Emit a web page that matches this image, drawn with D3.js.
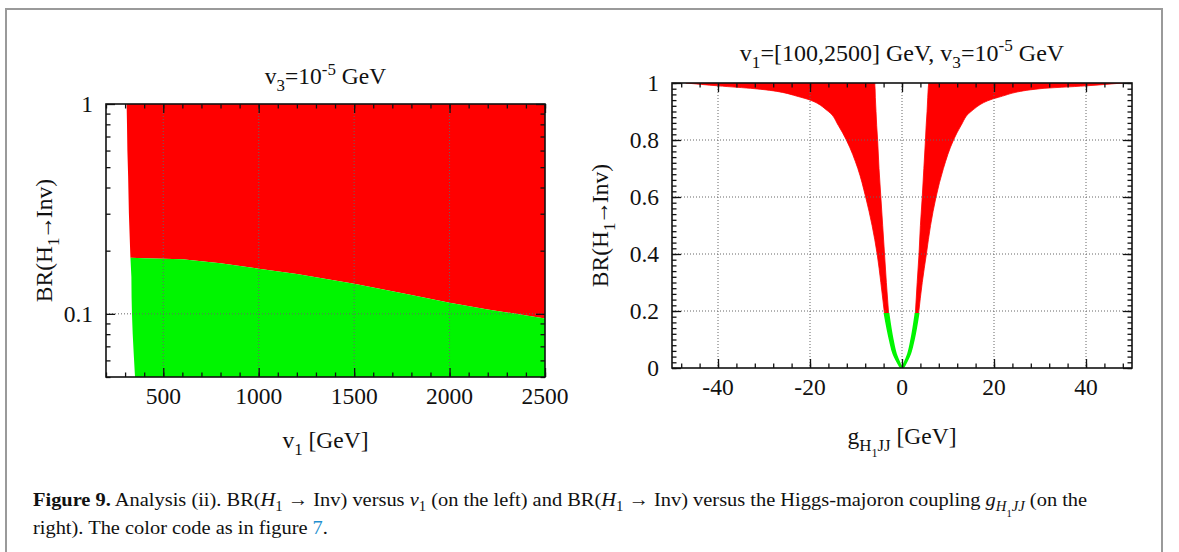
<!DOCTYPE html>
<html>
<head>
<meta charset="utf-8">
<script src="https://cdn.jsdelivr.net/npm/d3@7"></script>
<style>
  body { margin: 0; background: #fff; }
  svg text { font-family: "Liberation Serif", "Times New Roman", serif; fill: #111; }
</style>
</head>
<body>
<div id="wrapper"></div>
<script>

// ---- data ----

// left panel: BR(H1->Inv) vs v1
const leftXTicks = [500, 1000, 1500, 2000, 2500]
const leftYTicks = [0.1, 1]
// left boundary of the scanned points (BR from top to bottom)
const edgeBR = [1, 0.8, 0.6, 0.45, 0.3, 0.22, 0.185, 0.15, 0.12, 0.1, 0.08, 0.065, 0.05]
const edgeV1 = [308, 310, 312, 316, 320, 325, 328, 333, 334, 336, 340, 345, 352]
// green / red border
const limitV1 = [328, 400, 500, 600, 700, 800, 1000, 1200, 1500, 1800, 2000, 2200, 2500]
const limitBR = [0.185, 0.184, 0.183, 0.182, 0.178, 0.174, 0.164, 0.155, 0.139, 0.123, 0.113, 0.105, 0.095]

// right panel: BR(H1->Inv) vs g_H1JJ
const rightXTicks = [-40, -20, 0, 20, 40]
const rightYTicks = [0, 0.2, 0.4, 0.6, 0.8, 1]
const bandBR     = [0, 0.05, 0.1, 0.19, 0.3, 0.4, 0.5, 0.6, 0.7, 0.8, 0.85, 0.9, 0.95, 0.98, 0.99, 1]
const posInner   = [0, 1.3, 2.0, 2.9, 3.3, 3.7, 4.0, 4.4, 4.75, 5.1, 5.25, 5.45, 5.6, 5.7, 5.75, 5.8]
const posOuter   = [0.3, 1.8, 2.6, 3.6, 4.4, 5.3, 6.2, 7.4, 9.0, 11.2, 12.8, 15.0, 21, 30, 40, 48]
const negInner   = [0, -1.3, -2.0, -2.9, -3.4, -3.8, -4.2, -4.6, -5.0, -5.3, -5.5, -5.65, -5.8, -5.85, -5.9, -5.9]
const negOuter   = [-0.3, -1.9, -2.7, -3.8, -4.6, -5.4, -6.5, -7.9, -9.6, -12.1, -13.8, -16, -22, -32, -40, -47]
const greenCut = 0.19

const RED = "#ff0000"
const GREEN = "#00f500"

// ---- canvas ----
const width = 1179
const height = 552
const svg = d3.select("#wrapper").append("svg")
    .attr("width", width)
    .attr("height", height)

svg.append("rect")
    .attr("x", 6).attr("y", 9)
    .attr("width", 1156).attr("height", 600)
    .attr("fill", "none")
    .attr("stroke", "#9a9a9a")
    .attr("stroke-width", 2)

// rich text helper: parts = [{t, sub, sup, it, b, fill, dx}]
function rich(sel, parts, size) {
  let cur = 0
  parts.forEach(p => {
    let off = 0, fs = size
    if (p.sub) { off = size * 0.28 * p.sub; fs = size * Math.pow(0.72, p.sub) }
    if (p.sup) { off = -size * 0.4; fs = size * 0.72 }
    const ts = sel.append("tspan").text(p.t)
        .attr("dy", off - cur)
        .attr("font-size", fs)
    cur = off
    if (p.dx) ts.attr("dx", p.dx)
    if (p.it) ts.attr("font-style", "italic")
    if (p.b) ts.attr("font-weight", "bold")
    if (p.fill) ts.style("fill", p.fill)
  })
  return sel
}

function ticks(g, scale, values, axisFn, size) {
  g.call(axisFn(scale).tickValues(values).tickSize(size).tickFormat(""))
  g.select(".domain").remove()
  g.selectAll(".tick line").attr("stroke", "#111").attr("stroke-width", 1.3)
}

function panel(dim, xScale, yScale, xMajor, xMinor, yMajor, yMinor, yFmt) {
  const b = svg.append("g")
  const w = dim.right - dim.left, h = dim.bottom - dim.top
  const clipId = "clip" + dim.left
  b.append("clipPath").attr("id", clipId)
    .append("rect").attr("x", dim.left).attr("y", dim.top).attr("width", w).attr("height", h)
  const data = b.append("g").attr("clip-path", `url(#${clipId})`)

  // grid
  const grid = b.append("g")
      .attr("stroke", "#666").attr("stroke-width", 1).attr("stroke-dasharray", "1,2")
  grid.selectAll(".gx").data(xMajor.filter(v => xScale(v) > dim.left + 1 && xScale(v) < dim.right - 1))
    .join("line")
      .attr("x1", d => xScale(d)).attr("x2", d => xScale(d))
      .attr("y1", dim.top).attr("y2", dim.bottom)
  grid.selectAll(".gy").data(yMajor.filter(v => yScale(v) > dim.top + 1 && yScale(v) < dim.bottom - 1))
    .join("line")
      .attr("y1", d => yScale(d)).attr("y2", d => yScale(d))
      .attr("x1", dim.left).attr("x2", dim.right)

  // ticks on all four sides, pointing inward
  const axes = [
    [d3.axisBottom, xScale, `translate(0,${dim.bottom})`, xMajor, xMinor],
    [d3.axisTop, xScale, `translate(0,${dim.top})`, xMajor, xMinor],
    [d3.axisLeft, yScale, `translate(${dim.left},0)`, yMajor, yMinor],
    [d3.axisRight, yScale, `translate(${dim.right},0)`, yMajor, yMinor],
  ]
  axes.forEach(([fn, sc, tr, maj, min]) => {
    ticks(b.append("g").attr("transform", tr), sc, min, fn, -4.5)
    ticks(b.append("g").attr("transform", tr), sc, maj, fn, -9)
  })

  b.append("rect")
      .attr("x", dim.left).attr("y", dim.top).attr("width", w).attr("height", h)
      .attr("fill", "none").attr("stroke", "#111").attr("stroke-width", 1.6)

  // tick labels
  b.append("g").selectAll("text").data(xMajor).join("text")
      .attr("x", d => xScale(d)).attr("y", dim.bottom + 27)
      .attr("text-anchor", "middle").attr("font-size", 23.5)
      .text(d => d3.format("")(d).replace("−", "-"))
  b.append("g").selectAll("text").data(yMajor).join("text")
      .attr("x", dim.left - 13).attr("y", d => yScale(d) + 8)
      .attr("text-anchor", "end").attr("font-size", 23.5)
      .text(yFmt)
  return data
}

// ---- left panel ----
const L = { left: 106, right: 545, top: 104, bottom: 377 }
const xL = d3.scaleLinear().domain([200, 2500]).range([L.left, L.right])
const yL = d3.scaleLog().domain([0.05, 1]).range([L.bottom, L.top])

const leftData = panel(L, xL, yL,
  leftXTicks, d3.range(200, 2501, 100),
  leftYTicks, [0.05, 0.06, 0.07, 0.08, 0.09, 0.2, 0.3, 0.4, 0.5, 0.6, 0.7, 0.8, 0.9],
  d => d === 1 ? "1" : "0.1")

const edgePts = edgeBR.map((br, i) => [edgeV1[i], br])
const limitPts = limitV1.map((v, i) => [v, limitBR[i]])
const cut = limitBR[0]
const poly = d3.line().x(d => xL(d[0])).y(d => yL(d[1]))

const redPoly = edgePts.filter(d => d[1] >= cut)
  .concat(limitPts.slice(1))
  .concat([[2500, 1]])
const greenPoly = limitPts
  .concat([[2500, 0.05]])
  .concat(edgePts.filter(d => d[1] <= cut).reverse())

leftData.insert("path", ":first-child").attr("d", poly(greenPoly) + "Z").attr("fill", GREEN)
leftData.insert("path", ":first-child").attr("d", poly(redPoly) + "Z").attr("fill", RED)

// ---- right panel ----
const R = { left: 672, right: 1132, top: 83, bottom: 368 }
const xR = d3.scaleLinear().domain([-50, 50]).range([R.left, R.right])
const yR = d3.scaleLinear().domain([0, 1]).range([R.bottom, R.top])

const rightData = panel(R, xR, yR,
  rightXTicks, d3.range(-48, 49, 4),
  rightYTicks, d3.range(0, 1.001, 0.02),
  d => d === 0 ? "0" : d === 1 ? "1" : d3.format(".1f")(d))

const band = (inner, outer) => bandBR.map((br, i) => ({ br, a: inner[i], b: outer[i] }))
const area = d3.area()
    .y(d => yR(d.br))
    .x0(d => xR(d.a))
    .x1(d => xR(d.b))
    .curve(d3.curveMonotoneY)

;[band(posInner, posOuter), band(negInner, negOuter)].forEach(arm => {
  const top = arm.filter(d => d.br >= greenCut)
  const low = arm.filter(d => d.br <= greenCut)
  rightData.append("path").attr("d", area(top)).attr("fill", RED)
      .attr("stroke", RED).attr("stroke-width", 0.8)
  rightData.append("path").attr("d", area(low)).attr("fill", GREEN)
      .attr("stroke", GREEN).attr("stroke-width", 1.6)
})

// ---- titles & axis labels ----
const txt = (x, y, size, parts, rot) => {
  const t = svg.append("text")
      .attr("text-anchor", "middle")
      .attr("font-size", size)
  if (rot) t.attr("transform", `translate(${x},${y}) rotate(-90)`)
  else t.attr("x", x).attr("y", y)
  return rich(t, parts, size)
}

txt((L.left + L.right) / 2, 84, 23.5,
  [{ t: "v" }, { t: "3", sub: 1 }, { t: "=10" }, { t: "-5", sup: true }, { t: " GeV" }])
txt((R.left + R.right) / 2, 61, 24,
  [{ t: "v" }, { t: "1", sub: 1 }, { t: "=[100,2500] GeV, v" }, { t: "3", sub: 1 },
   { t: "=10" }, { t: "-5", sup: true }, { t: " GeV" }])

const brLabel = [{ t: "BR(H" }, { t: "1", sub: 1 }, { t: "\u2192", dx: -2 }, { t: "Inv)", dx: -2 }]
txt(52, (L.top + L.bottom) / 2, 23.5, brLabel, true)
txt(608, (R.top + R.bottom) / 2, 23.5, brLabel, true)

txt((L.left + L.right) / 2, 448, 23.5, [{ t: "v" }, { t: "1", sub: 1 }, { t: " [GeV]" }])
txt((R.left + R.right) / 2, 444, 23.5,
  [{ t: "g" }, { t: "H", sub: 1 }, { t: "1", sub: 2 }, { t: "JJ", sub: 1 }, { t: " [GeV]" }])

// ---- caption ----
const cap1 = svg.append("text").attr("x", 33).attr("y", 506).attr("font-size", 19.5)
rich(cap1, [
  { t: "Figure 9.", b: true }, { t: " Analysis (ii). BR(" }, { t: "H", it: true }, { t: "1", sub: 1 },
  { t: " \u2192 Inv) versus " }, { t: "v", it: true }, { t: "1", sub: 1 },
  { t: " (on the left) and BR(" }, { t: "H", it: true }, { t: "1", sub: 1 },
  { t: " \u2192 Inv) versus the Higgs-majoron coupling " }, { t: "g", it: true },
  { t: "H", sub: 1, it: true }, { t: "1", sub: 2 }, { t: "JJ", sub: 1, it: true }, { t: " (on the" }
], 19.5)
const cap2 = svg.append("text").attr("x", 33).attr("y", 534).attr("font-size", 19.5)
rich(cap2, [{ t: "right). The color code as in figure " }, { t: "7", fill: "#1f8fcf" }, { t: "." }], 19.5)

// squeeze caption to the condensed width of the original
const k = 1055 / cap1.node().getComputedTextLength()
;[cap1, cap2].forEach(c => c.attr("transform", `translate(33,0) scale(${k},1) translate(-33,0)`))

</script>
</body>
</html>
